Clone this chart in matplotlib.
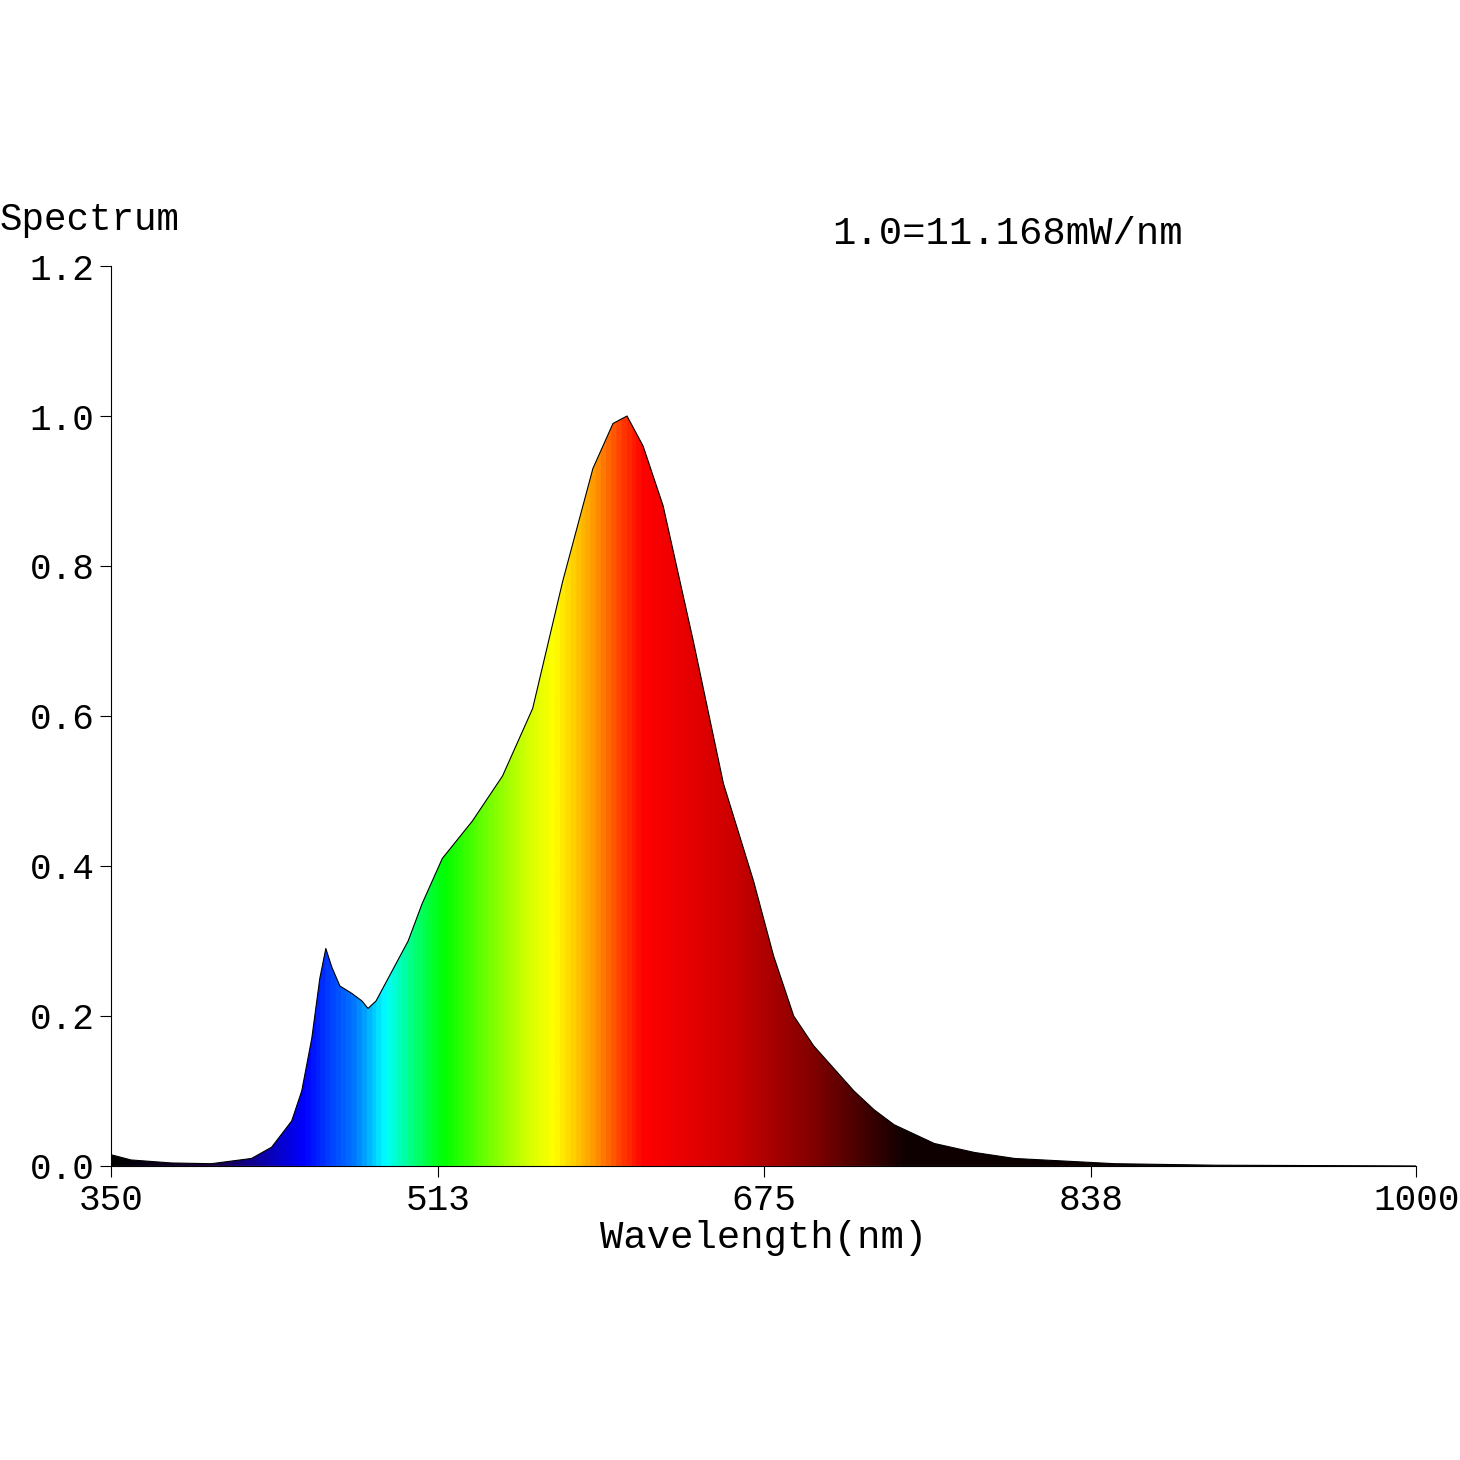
import numpy as np
import matplotlib.pyplot as plt
from matplotlib.colors import LinearSegmentedColormap

# spectrum (nm, relative power)
wl = [350, 360, 380, 400, 420, 430, 440, 445, 450, 454, 457, 460, 464, 470, 475, 478, 482,
      490, 498, 505, 515, 530, 545, 560, 575, 590, 600, 607, 615, 625, 640, 655, 670,
      680, 690, 700, 710, 720, 730, 740, 760, 780, 800, 850, 900, 1000]
power = [0.015, 0.008, 0.004, 0.003, 0.01, 0.025, 0.06, 0.10, 0.17, 0.25, 0.29, 0.265, 0.24,
         0.23, 0.22, 0.21, 0.22, 0.26, 0.30, 0.35, 0.41, 0.46, 0.52, 0.61, 0.78, 0.93, 0.99,
         1.0, 0.96, 0.88, 0.70, 0.51, 0.38, 0.28, 0.20, 0.16, 0.13, 0.10, 0.075, 0.055,
         0.03, 0.018, 0.01, 0.003, 0.001, 0.0]
xticks = [350, 513, 675, 838, 1000]
yticks = [0.0, 0.2, 0.4, 0.6, 0.8, 1.0, 1.2]

# wavelength colour stops
stops = [(350, '#000000'), (400, '#1a0040'), (445, '#0000ff'), (470, '#0077ff'),
         (486, '#00ffff'), (500, '#00ff77'), (515, '#00ff00'), (535, '#66ff00'),
         (555, '#ccff00'), (570, '#ffff00'), (590, '#ff9900'), (605, '#ff3300'),
         (615, '#ff0000'), (660, '#cc0000'), (700, '#800000'), (745, '#100000'),
         (1000, '#000000')]
cmap = LinearSegmentedColormap.from_list(
    'spec', [((w - 350) / 650, c) for w, c in stops])

font = 'Liberation Mono'
fig = plt.figure(figsize=(14.6, 14.6), dpi=100)
ax = fig.add_axes([0.076, 0.2014, 0.894, 0.6164])

poly = ax.fill_between(wl, power, 0, color='none')
img = ax.imshow(np.linspace(0, 1, 1000)[None, :], extent=[350, 1000, 0, 1.2],
                aspect='auto', cmap=cmap, origin='lower')
img.set_clip_path(poly.get_paths()[0], transform=ax.transData)
ax.plot(wl, power, color='black', lw=0.8)

ax.set_xlim(350, 1000)
ax.set_ylim(0, 1.2)
ax.set_xticks(xticks)
ax.set_yticks(yticks)
ax.set_yticklabels(['%.1f' % v for v in yticks])
for s in ['top', 'right']:
    ax.spines[s].set_visible(False)
ax.tick_params(direction='out', length=8, labelsize=26, pad=4)
for lab in ax.get_xticklabels() + ax.get_yticklabels():
    lab.set_family(font)
ax.set_xlabel('Wavelength(nm)', fontsize=28, family=font, labelpad=2)
fig.text(0.0, 0.849, 'Spectrum', fontsize=27, family=font, va='center')
fig.text(0.57, 0.84, '1.0=11.168mW/nm', fontsize=28, family=font, va='center')

fig.savefig('out.png', dpi=100)
